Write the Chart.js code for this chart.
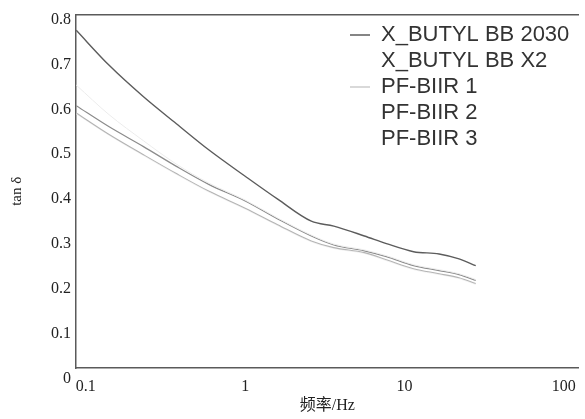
<!DOCTYPE html>
<html>
<head>
<meta charset="utf-8">
<script src="https://cdn.jsdelivr.net/npm/chart.js@4.4.1/dist/chart.umd.min.js"></script>
<style>
  html, body { margin: 0; padding: 0; background: #fff; }
</style>
</head>
<body>
<canvas id="myChart" width="585" height="419"></canvas>
<script>
// data
const seriesNames = ['X_BUTYL BB 2030', 'X_BUTYL BB X2', 'PF-BIIR 1', 'PF-BIIR 2', 'PF-BIIR 3']
const freq = [0.087, 0.14, 0.23, 0.37, 0.59, 1, 1.6, 2.6, 3.6, 5.6, 7.7, 11.4, 16.5, 22, 28]
const butyl2030 = [0.776, 0.698, 0.628, 0.568, 0.510, 0.451, 0.400, 0.351, 0.340, 0.318, 0.301, 0.283, 0.278, 0.267, 0.252]
const butylX2 = [0.654, 0.588, 0.530, 0.478, 0.436, 0.398, 0.358, 0.320, 0.300, 0.287, 0.274, 0.254, 0.243, 0.234, 0.221]
const biir1 = [0.592, 0.544, 0.499, 0.457, 0.418, 0.380, 0.343, 0.307, 0.292, 0.281, 0.265, 0.245, 0.234, 0.225, 0.212]
const biir2 = [0.608, 0.561, 0.517, 0.473, 0.433, 0.396, 0.356, 0.318, 0.298, 0.285, 0.272, 0.252, 0.241, 0.232, 0.219]
const biir3 = [0.590, 0.542, 0.497, 0.455, 0.416, 0.378, 0.341, 0.305, 0.290, 0.279, 0.263, 0.243, 0.232, 0.223, 0.210]
const xTicks = [0.1, 1, 10, 100]
const yTicks = [0, 0.1, 0.2, 0.3, 0.4, 0.5, 0.6, 0.7, 0.8]

const serif = "'Liberation Serif', 'Noto Sans CJK SC', serif"
const axisColor = '#5a5a5a'

const makeSet = (name, values, color, width) => ({
    label: name,
    data: freq.map((f, i) => ({ x: f, y: values[i] })),
    borderColor: color,
    backgroundColor: color,
    borderWidth: width,
    pointRadius: 0,
    cubicInterpolationMode: 'monotone',
    fill: false
})

// move the legend into the top right corner of the plot
const legendSpot = {
    id: 'legendSpot',
    afterLayout(chart) {
        const lg = chart.legend
        lg.left = 346
        lg.top = 20
        lg.right = lg.left + lg.width
        lg.bottom = lg.top + lg.height
    }
}

const noSwatch = [1, 3, 4]

const ctx = document.getElementById('myChart').getContext('2d')
const myChart = new Chart(ctx, {
    type: 'line',
    data: {
        datasets: [
            makeSet(seriesNames[0], butyl2030, '#5c5c5c', 1.4),
            makeSet(seriesNames[1], butylX2, '#ececec', 1),
            makeSet(seriesNames[2], biir1, '#b4b4b4', 1.1),
            makeSet(seriesNames[3], biir2, '#8c8c8c', 1.2),
            makeSet(seriesNames[4], biir3, '#f2f2f2', 1)
        ]
    },
    options: {
        responsive: false,
        animation: false,
        layout: { padding: { top: 12, right: 1, bottom: 0, left: 0 } },
        scales: {
            x: {
                type: 'logarithmic',
                min: 0.0867,
                max: 124,
                grid: { display: false, drawTicks: false },
                border: { display: true, color: axisColor, width: 1.5 },
                ticks: {
                    autoSkip: false,
                    maxRotation: 0,
                    padding: 9,
                    color: '#222',
                    font: { family: serif, size: 16 },
                    callback: v => String(v)
                },
                afterBuildTicks: scale => { scale.ticks = xTicks.map(v => ({ value: v })) },
                afterFit: scale => { scale.height = 51 },
                title: {
                    display: true,
                    text: '频率/Hz',
                    color: '#222',
                    font: { family: serif, size: 16 },
                    padding: { top: 0, bottom: 4 }
                }
            },
            xTop: {
                type: 'logarithmic',
                position: 'top',
                min: 0.0867,
                max: 124,
                grid: { display: false, drawTicks: false },
                border: { display: true, color: axisColor, width: 1.5 },
                ticks: { display: false },
                afterFit: scale => { scale.height = 0 }
            },
            y: {
                min: 0.024,
                max: 0.811,
                grid: { display: false, drawTicks: false },
                border: { display: true, color: axisColor, width: 1.5 },
                ticks: {
                    autoSkip: false,
                    padding: 5,
                    color: '#222',
                    font: { family: serif, size: 16 },
                    callback: v => v === 0 ? '0' : v.toFixed(1)
                },
                afterBuildTicks: scale => { scale.ticks = yTicks.map(v => ({ value: v })) },
                afterFit: scale => { scale.width = 76 },
                title: {
                    display: true,
                    text: 'tan δ',
                    color: '#222',
                    font: { family: serif, size: 15 },
                    padding: { top: 8, bottom: 0 }
                }
            }
        },
        plugins: {
            tooltip: { enabled: false },
            legend: {
                display: true,
                position: 'chartArea',
                align: 'start',
                labels: {
                    usePointStyle: true,
                    pointStyle: 'line',
                    pointStyleWidth: 20,
                    padding: 4,
                    color: '#333',
                    font: { family: "'Liberation Sans', Arial, sans-serif", size: 22 },
                    generateLabels: chart => Chart.defaults.plugins.legend.labels.generateLabels(chart).map((item, i) => {
                        if (noSwatch.includes(i)) item.strokeStyle = 'rgba(0,0,0,0)'
                        return item
                    })
                }
            }
        }
    },
    plugins: [legendSpot]
})
</script>
</body>
</html>
